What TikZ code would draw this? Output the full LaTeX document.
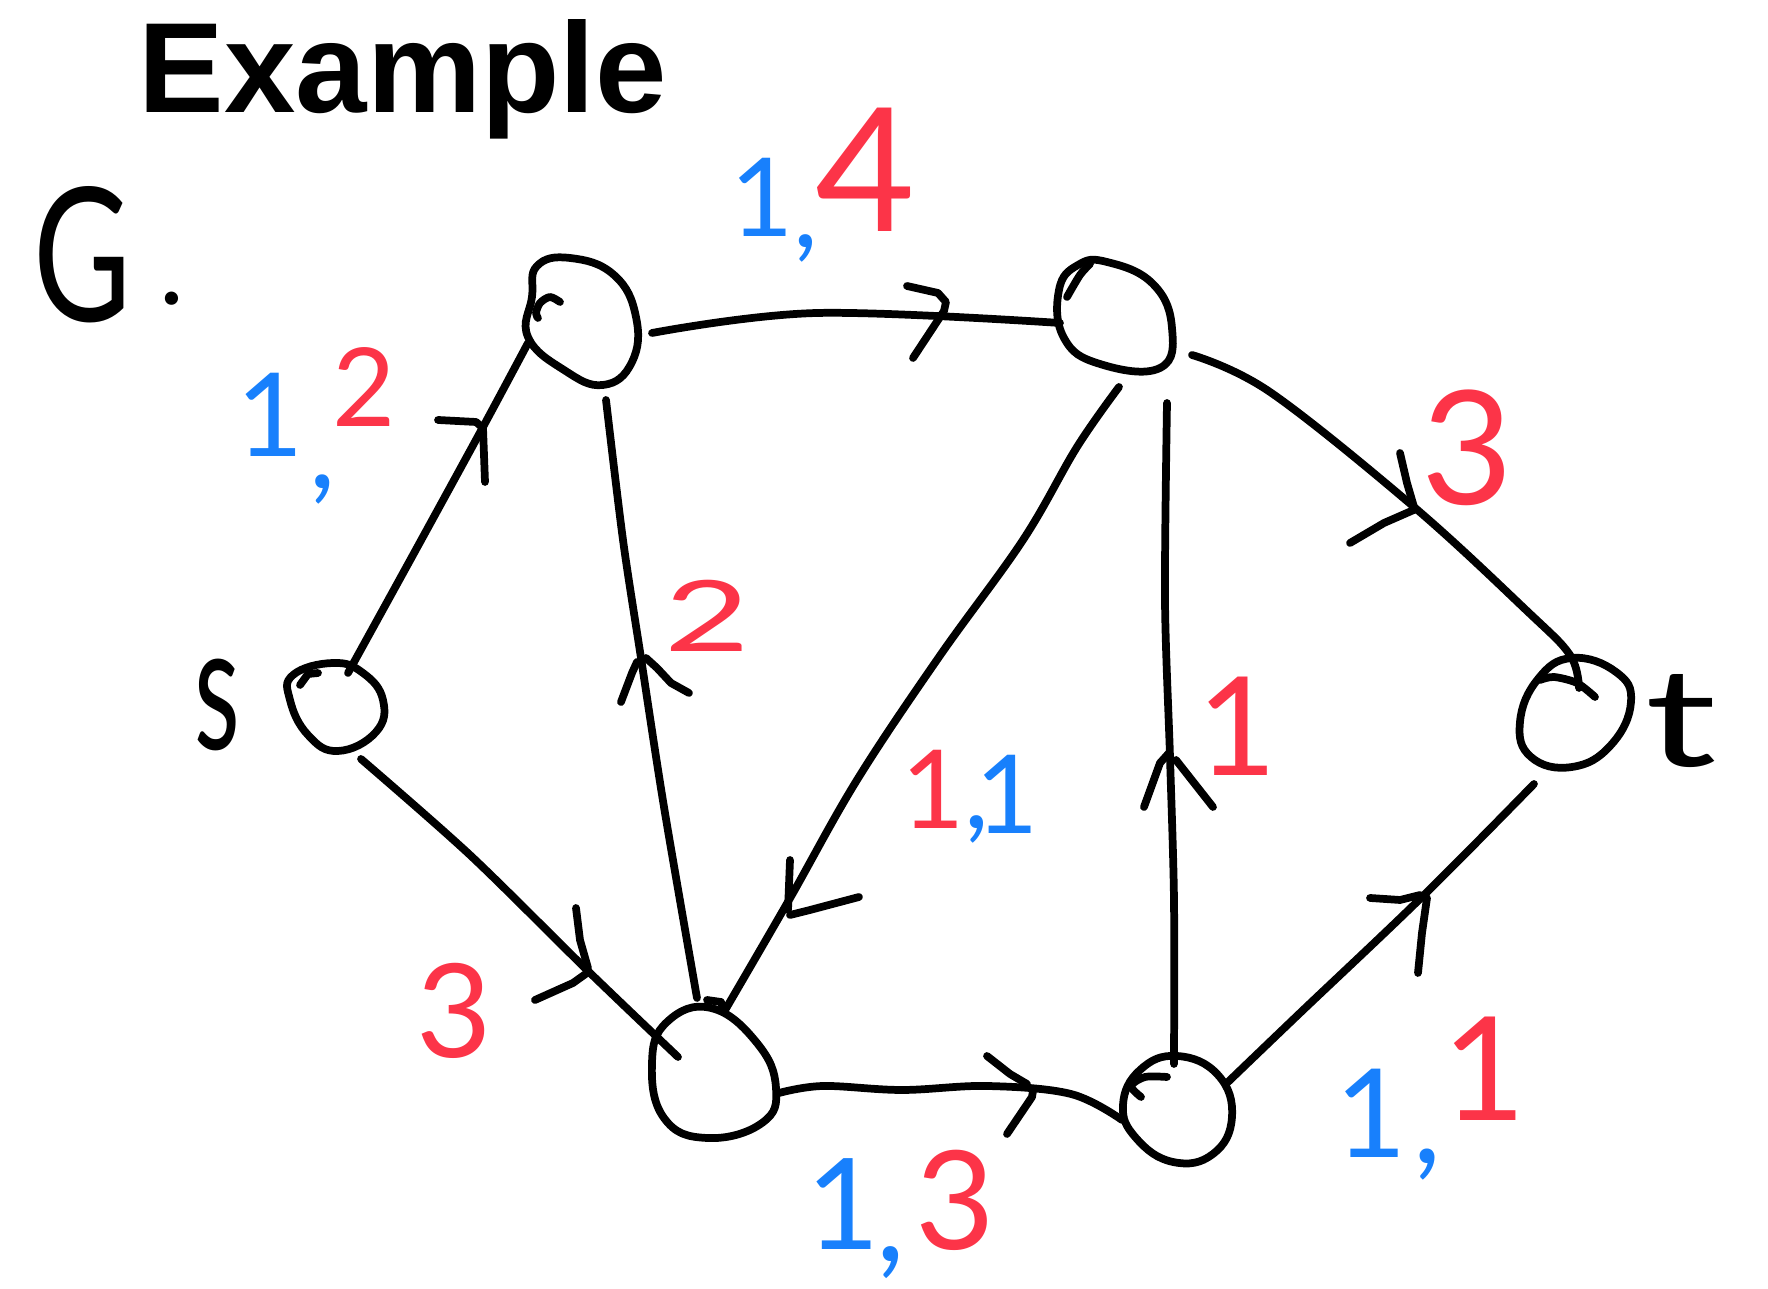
\documentclass[tikz,border=0pt]{standalone}
\usepackage{fontspec}
\setmainfont{Lato}
\newfontfamily\titlefont{Liberation Sans}
\usetikzlibrary{calc}
\definecolor{fblue}{RGB}{24,128,252}
\definecolor{fred}{RGB}{252,52,72}
\newcommand\hw[1]{\fontsize{#1}{#1}\selectfont}
\begin{document}
\begin{tikzpicture}[x=0.01cm,y=-0.01cm,
  pen/.style={line width=2.2pt,line cap=round,line join=round},
  blob/.style={pen,smooth cycle,tension=0.75},
  vtx/.style={circle,minimum size=1.1cm,inner sep=0pt},
  lab/.style={inner sep=0pt,anchor=base west},
]
\useasboundingbox (0,0) rectangle (1768,1289);
% title and graph name
\node[lab,font=\titlefont\bfseries\hw{36.5}] (title) at (138,113) {Example};
\node[lab,font=\hw{53}] (gname) at (33,322) {\scalebox{0.72}[1]{G}\kern8pt\raisebox{5pt}{\hw{30}.}};

% vertices (positions)
\node[vtx] (s) at (338,705) {};
\node[vtx] (A) at (584,322) {};
\node[vtx] (B) at (1116,318) {};
\node[vtx] (C) at (712,1068) {};
\node[vtx] (D) at (1178,1110) {};
\node[vtx] (t) at (1576,712) {};

% hand-drawn vertex outlines
\draw[pen,shift={(s.center)}] plot[blob] coordinates {(-5,-42) (-45,-30) (-48,-5) (-30,30) (0,46) (38,27) (45,-5) (25,-32)};
\draw[pen,shift={(s.center)}] (-38,-20) -- (-30,-31) -- (-20,-32);
\draw[pen,shift={(A.center)}] plot[blob] coordinates {(-14,-64) (30,-47) (52,-5) (48,40) (19,63) (-20,48) (-56,15) (-52,-25) (-47,-56)};
\draw[pen,shift={(A.center)}] plot[smooth] coordinates {(-24,-20) (-34,-25) (-44,-19) (-48,-9) (-46,-4)};
\draw[pen,shift={(B.center)}] plot[blob] coordinates {(-9,-56) (37,-34) (56,10) (44,50) (-16,46) (-52,20) (-57,-28) (-38,-53)};
\draw[pen,shift={(B.center)}] plot[smooth] coordinates {(-49,-21) (-36,-43) (-26,-54)};
\draw[pen,shift={(C.center)}] plot[blob] coordinates {(-1,-60) (-45,-46) (-60,-5) (-48,50) (-5,70) (50,55) (64,20) (45,-25)};
\draw[pen,shift={(C.center)}] (-5,-68) -- (9,-66) -- (12,-56);
\draw[pen,shift={(D.center)}] plot[blob] coordinates {(-55,-5) (-38,-40) (-1,-54) (40,-35) (54,7) (35,44) (-5,52) (-42,28)};
\draw[pen,shift={(D.center)}] plot[smooth] coordinates {(-37,-13) (-47,-24) (-33,-33) (-11,-33)};
\draw[pen,shift={(t.center)}] plot[blob] coordinates {(-4,-54) (40,-40) (55,-10) (35,33) (-4,55) (-45,45) (-56,10) (-38,-33)};
\draw[pen,shift={(t.center)}] plot[smooth] coordinates {(-36,-32) (-22,-35) (1,-29) (19,-15)};

% vertex names
\node[lab,font=\hw{50}] (sname) at (194,750) {\scalebox{0.6}[1]{s}};
\node[lab,font=\hw{39}] (tname) at (1645,767) {\scalebox{1.45}[1]{t}};

% edges
\draw[pen] plot[smooth] coordinates {($(s)+(10,-32)$) (413,555) (483,427) ($(A)+(-56,21)$)};
\draw[pen] plot[smooth,tension=0.6] coordinates {($(A)+(68,11)$) (817,313) ($(B)+(-56,5)$)};
\draw[pen] plot[smooth,tension=0.6] coordinates {($(B)+(76,37)$) (1270,392) (1414,507) (1526,610) (1570,655) ($(t)+(3,-24)$)};
\draw[pen] plot[smooth] coordinates {($(s)+(23,54)$) (470,855) (587,970) ($(C)+(-34,-11)$)};
\draw[pen] plot[smooth] coordinates {($(C)+(-15,-70)$) (664,807) (641,658) (623,540) ($(A)+(22,78)$)};
\draw[pen] plot[smooth,tension=0.6] coordinates {($(B)+(3,69)$) (1077,447) (1023,540) (939,657) (857,780) (789,900) ($(C)+(12,-56)$)};
\draw[pen] plot[smooth] coordinates {($(D)+(-4,-46)$) (1174,900) (1170,757) (1165,600) ($(B)+(51,85)$)};
\draw[pen] plot[smooth,tension=0.6] coordinates {($(C)+(67,25)$) (823,1086) (902,1090) (987,1086) (1071,1094) ($(D)+(-56,10)$)};
\draw[pen] plot[smooth,tension=0.6] coordinates {($(D)+(50,-28)$) (1300,1013) (1423,896) ($(t)+(-42,72)$)};

% hand-drawn arrowheads
\draw[pen] (438,420) -- (476,422) -- (483,428) -- (485,482);
\draw[pen] (907,286) -- (938,293) -- (946,302) -- (944,311) -- (913,358);
\draw[pen] (1400,453) -- (1407,483) -- (1414,507);
\draw[pen] (1350,543) -- (1384,523) -- (1416,509);
\draw[pen] (576,908) -- (580,940) -- (588,968);
\draw[pen] (535,1000) -- (573,983) -- (587,973);
\draw[pen] (621,702) -- (632,673) -- (637,662);
\draw[pen] (689,693) -- (671,683) -- (657,668) -- (646,658);
\draw[pen] (790,860) -- (788,910);
\draw[pen] (859,897) -- (810,910) -- (790,915);
\draw[pen] (1144,807) -- (1160,763) -- (1169,753);
\draw[pen] (1213,807) -- (1176,760);
\draw[pen] (987,1056) -- (1010,1074) -- (1027,1084);
\draw[pen] (1007,1134) -- (1032,1097) -- (1033,1091);
\draw[pen] (1370,898) -- (1400,900) -- (1420,895);
\draw[pen] (1418,973) -- (1422,933) -- (1427,898);

% flow / capacity labels
\node[lab] (l1) at (236,457) {\textcolor{fblue}{\hw{33}1\kern1.7pt\raisebox{-9pt}{,}}\kern-1pt\raisebox{8.8pt}{\textcolor{fred}{\hw{31}2}}};
\node[lab] (l2) at (730,237) {\textcolor{fblue}{\hw{31}1\raisebox{-3pt}{,}}\kern-1pt\raisebox{1.7pt}{\textcolor{fred}{\hw{49}4}}};
\node[lab] (l3) at (1421,505) {\textcolor{fred}{\hw{45}3}};
\node[lab] (l4) at (664,652) {\textcolor{fred}{\hw{28}\scalebox{1.5}[1]{2}}};
\node[lab] (l5) at (901,829) {\textcolor{fred}{\hw{31}1}\textcolor{fblue}{\hw{31},\kern-4pt\raisebox{-1.4pt}{1}}};
\node[lab] (l6) at (1197,776) {\textcolor{fred}{\hw{39}1}};
\node[lab] (l7) at (416,1058) {\textcolor{fred}{\hw{37}3}};
\node[lab] (l8) at (806,1250) {\textcolor{fblue}{\hw{36}1\kern-1pt\raisebox{-3.4pt}{,}}\kern3pt\textcolor{fred}{\hw{39}3}};
\node[lab] (l9) at (1335,1158) {\textcolor{fblue}{\hw{35}1\kern1.7pt\raisebox{-1.5pt}{,}}\kern0.5pt\raisebox{10.8pt}{\textcolor{fred}{\hw{41}1}}};
\end{tikzpicture}
\end{document}
